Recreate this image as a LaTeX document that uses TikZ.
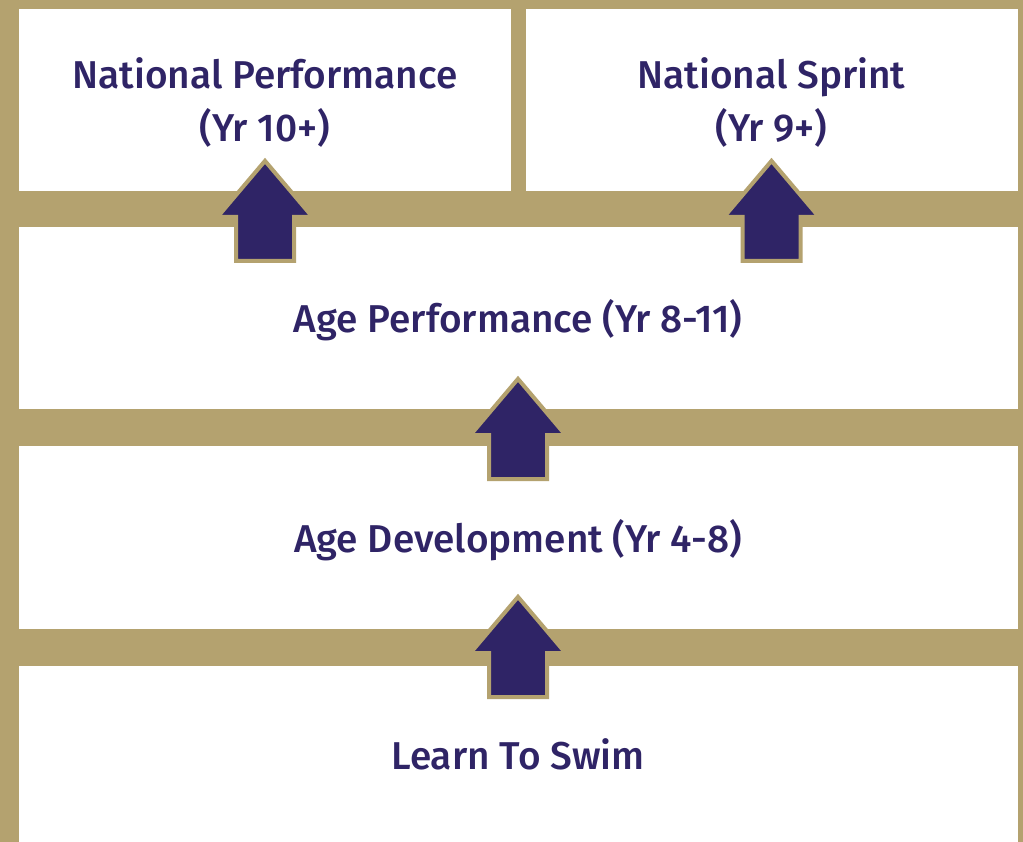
\documentclass[tikz,border=0pt]{standalone}
\usepackage{fontspec}
\setmainfont{Fira Sans Medium}
\definecolor{tan}{HTML}{B4A26F}
\definecolor{navy}{HTML}{2F2466}
\tikzset{
  label/.style={text=navy, font=\fontsize{38.8}{53}\selectfont, anchor=base, inner sep=0pt, align=center},
  uparrow/.style={fill=navy, draw=tan, line width=4pt, line join=miter},
}
\newcommand{\uparr}[3]{% name, cx, outer tip y
  \path[uparrow] (#2,#3+2.9) -- (#2+47.5,#3+59) -- (#2+29,#3+59) -- (#2+29,#3+103)
    -- (#2-29,#3+103) -- (#2-29,#3+59) -- (#2-47.5,#3+59) -- cycle;
  \coordinate (#1) at (#2,#3+59);
}
\begin{document}
\begin{tikzpicture}[x=1pt,y=-1pt]
\fill[tan] (0,0) rectangle (1023,842);
\useasboundingbox (0,0) rectangle (1023,842);
% panels
\fill[white] (19,9) rectangle (511,191);
\fill[white] (526,9) rectangle (1018,191);
\fill[white] (19,227) rectangle (1018,409);
\fill[white] (19,446) rectangle (1018,629);
\fill[white] (19,666) rectangle (1018,842);
% labels
\node[label] (np1) at (265,89) {National Performance};
\node[label] (np2) at (265,142) {(Yr 10+)};
\node[label] (ns1) at (771.5,89) {National Sprint};
\node[label] (ns2) at (771.5,142) {(Yr 9+)};
\node[label] (ap) at (518,333) {Age Performance (Yr 8-11)};
\node[label] (ad) at (518,552) {Age Development (Yr 4-8)};
\node[label] (ls) at (518,769) {Learn To Swim};
% arrows
\uparr{a1}{265}{158}
\uparr{a2}{771.5}{158}
\uparr{a3}{518}{376}
\uparr{a4}{518}{594}
\end{tikzpicture}
\end{document}
